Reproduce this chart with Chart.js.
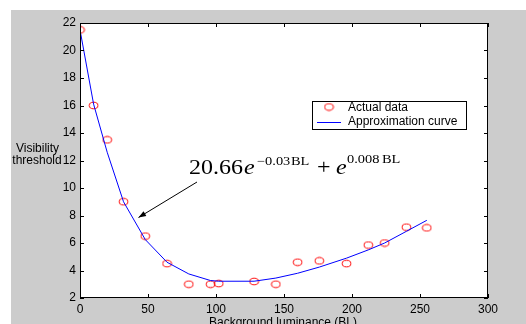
<!DOCTYPE html>
<html>
<head>
<meta charset="utf-8">
<script src="https://cdn.jsdelivr.net/npm/chart.js@4"></script>
<style>
html,body{margin:0;padding:0;background:#fff;}
#wrap{width:526px;height:324px;position:relative;}
</style>
</head>
<body>
<div id="wrap"><canvas id="c" width="526" height="324"></canvas></div>
<script>
// Data
const dataBL    = [0, 10, 20, 32, 48, 64, 80, 96, 102, 128, 144, 160, 176, 196, 212, 224, 240, 255];
const dataVal   = [21.5, 16, 13.5, 9, 6.5, 4.5, 3.0, 3.0, 3.05, 3.2, 3.0, 4.6, 4.7, 4.5, 5.85, 6.0, 7.15, 7.1];
const curveBL   = [0, 10, 20, 32, 48, 64, 80, 96, 102, 128, 144, 160, 176, 196, 212, 224, 240, 255];
const curveVal  = [21.5, 16.1, 12.6, 9.0, 6.25, 4.6, 3.75, 3.27, 3.22, 3.22, 3.45, 3.8, 4.25, 4.9, 5.5, 6.0, 6.85, 7.65];
const xTicks    = [0, 50, 100, 150, 200, 250, 300];
const yTicks    = [2, 4, 6, 8, 10, 12, 14, 16, 18, 20, 22];
const legendLabels = ['Actual data', 'Approximation curve'];
const xTitle = 'Background luminance (BL)';
const yTitle = ['Visibility', 'threshold'];

const FONT = '"Liberation Sans", Arial, sans-serif';
const SERIF = '"Liberation Serif", "Times New Roman", serif';

// elliptical marker like the reference
const mk = document.createElement('canvas');
mk.width = 11; mk.height = 9;
(function(){
  const g = mk.getContext('2d');
  g.strokeStyle = '#ff0000'; g.lineWidth = 1;
  g.beginPath(); g.ellipse(5.5, 4.5, 4.3, 3.3, 0, 0, Math.PI*2); g.stroke();
})();

const framePlugin = {
  id: 'frame',
  beforeDraw(chart) {
    const ctx = chart.ctx, a = chart.chartArea;
    ctx.save();
    ctx.fillStyle = '#ffffff';
    ctx.fillRect(0, 0, chart.width, chart.height);
    ctx.fillStyle = '#cccccc';
    ctx.fillRect(11, 10, chart.width - 11, chart.height - 10);
    ctx.fillStyle = '#ffffff';
    ctx.fillRect(a.left, a.top, a.right - a.left, a.bottom - a.top);
    ctx.restore();
  },
  afterDraw(chart) {
    const ctx = chart.ctx, a = chart.chartArea;
    const xs = chart.scales.x, ys = chart.scales.y;
    ctx.save();
    // box
    ctx.strokeStyle = '#000'; ctx.lineWidth = 1;
    ctx.strokeRect(a.left + 0.5, a.top + 0.5, a.right - a.left - 1, a.bottom - a.top - 1);
    // inward ticks
    ctx.beginPath();
    xTicks.forEach(v => {
      const px = Math.round(xs.getPixelForValue(v)) + 0.5;
      ctx.moveTo(px, a.bottom); ctx.lineTo(px, a.bottom - 4);
      ctx.moveTo(px, a.top); ctx.lineTo(px, a.top + 4);
    });
    yTicks.forEach(v => {
      const py = Math.round(ys.getPixelForValue(v)) + 0.5;
      ctx.moveTo(a.left, py); ctx.lineTo(a.left + 4, py);
      ctx.moveTo(a.right, py); ctx.lineTo(a.right - 4, py);
    });
    ctx.stroke();

    // axis titles
    ctx.fillStyle = '#000';
    ctx.font = '12px ' + FONT;
    ctx.textAlign = 'center'; ctx.textBaseline = 'middle';
    ctx.fillText(yTitle[0], 37.5, 149);
    ctx.fillText(yTitle[1], 37, 161);
    ctx.textBaseline = 'alphabetic';
    ctx.fillText(xTitle, 283, 325.5);

    // legend
    ctx.fillStyle = '#fff';
    ctx.fillRect(312, 101, 155, 29);
    ctx.strokeStyle = '#000';
    ctx.strokeRect(312.5, 101.5, 154, 28);
    ctx.drawImage(mk, 329 - 5.5, 107 - 4.5);
    ctx.strokeStyle = '#0000ff';
    ctx.beginPath(); ctx.moveTo(317, 122.5); ctx.lineTo(341, 122.5); ctx.stroke();
    ctx.fillStyle = '#000';
    ctx.textAlign = 'left'; ctx.textBaseline = 'middle';
    ctx.fillText(legendLabels[0], 348, 107.5);
    ctx.fillText(legendLabels[1], 348, 121.5);

    // equation
    const piece = (txt, x, y, font) => {
      ctx.save();
      ctx.translate(x, y); ctx.scale(1.2, 1);
      ctx.font = font; ctx.textAlign = 'left'; ctx.textBaseline = 'alphabetic';
      ctx.fillText(txt, 0, 0);
      ctx.restore();
    };
    piece('20.66', 189, 174, '20px ' + SERIF);
    piece('e', 244, 174, 'italic 20px ' + SERIF);
    piece('\u22120.03', 257, 165, '12px ' + SERIF);
    piece('BL', 291, 165, '12px ' + SERIF);
    piece('+', 317, 174, '20px ' + SERIF);
    piece('e', 336, 174, 'italic 20px ' + SERIF);
    piece('0.008', 347, 163, '12px ' + SERIF);
    piece('BL', 382, 163, '12px ' + SERIF);

    // arrow
    ctx.strokeStyle = '#000'; ctx.fillStyle = '#000';
    const x1 = 197, y1 = 182, x2 = 138.5, y2 = 217.5;
    ctx.beginPath(); ctx.moveTo(x1, y1); ctx.lineTo(x2, y2); ctx.stroke();
    const ang = Math.atan2(y2 - y1, x2 - x1), L = 8, w = 0.35;
    ctx.beginPath();
    ctx.moveTo(x2, y2);
    ctx.lineTo(x2 - L*Math.cos(ang - w), y2 - L*Math.sin(ang - w));
    ctx.lineTo(x2 - L*Math.cos(ang + w), y2 - L*Math.sin(ang + w));
    ctx.closePath(); ctx.fill();
    ctx.restore();
  }
};

new Chart(document.getElementById('c'), {
  type: 'scatter',
  data: {
    datasets: [
      {
        label: legendLabels[1],
        data: curveBL.map((x, i) => ({x, y: curveVal[i]})),
        showLine: true,
        borderColor: '#0000ff',
        borderWidth: 1,
        pointRadius: 0,
        fill: false,
        tension: 0
      },
      {
        label: legendLabels[0],
        data: dataBL.map((x, i) => ({x, y: dataVal[i]})),
        showLine: false,
        pointStyle: mk,
        pointRadius: 4,
        borderColor: '#ff0000',
        backgroundColor: 'rgba(0,0,0,0)'
      }
    ]
  },
  options: {
    responsive: false,
    animation: false,
    devicePixelRatio: 1,
    layout: { padding: { left: 0, top: 23, right: 38, bottom: 0 } },
    plugins: { legend: { display: false }, tooltip: { enabled: false } },
    scales: {
      x: {
        type: 'linear', min: 0, max: 300,
        afterBuildTicks: s => { s.ticks = xTicks.map(v => ({value: v})); },
        afterFit: s => { s.height = 26; },
        grid: { display: false, drawTicks: false },
        border: { display: false },
        ticks: { color: '#000', padding: 4, maxRotation: 0, autoSkip: false, font: { family: FONT, size: 12 } }
      },
      y: {
        type: 'linear', min: 2, max: 22,
        afterBuildTicks: s => { s.ticks = yTicks.map(v => ({value: v})); },
        afterFit: s => { s.width = 80; },
        grid: { display: false, drawTicks: false },
        border: { display: false },
        ticks: { color: '#000', padding: 4, autoSkip: false, font: { family: FONT, size: 12 } }
      }
    }
  },
  plugins: [framePlugin]
});
</script>
</body>
</html>
